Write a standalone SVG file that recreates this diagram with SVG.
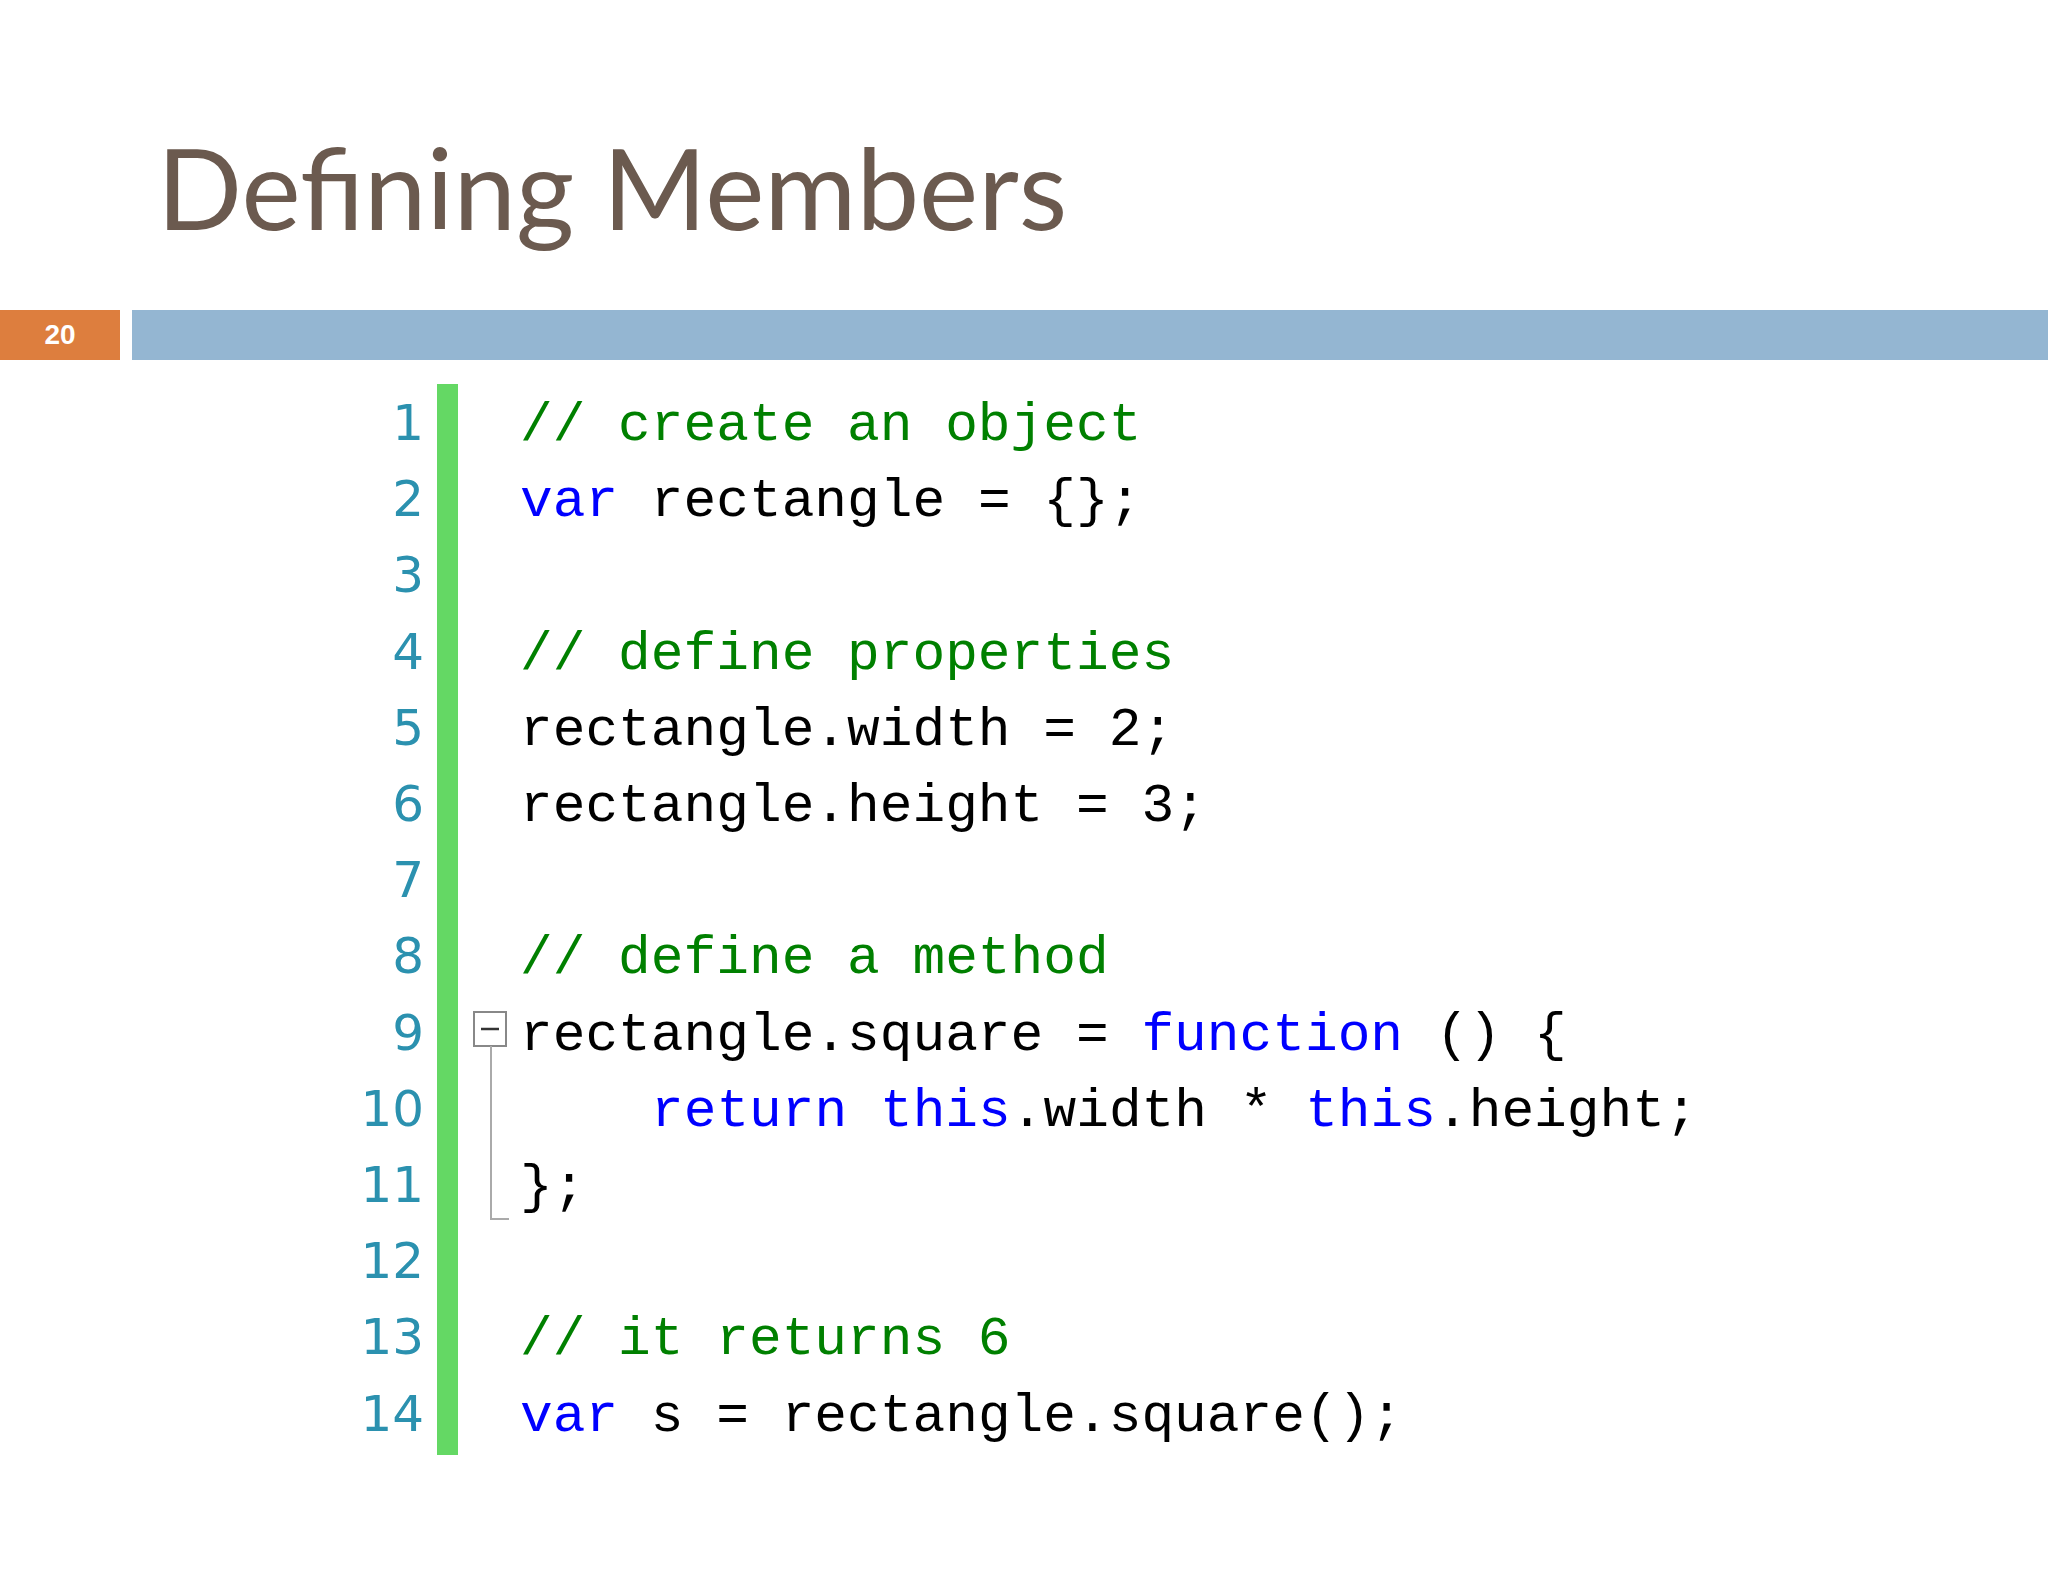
<svg xmlns="http://www.w3.org/2000/svg" width="2048" height="1582" viewBox="0 0 2048 1582">
<style>
.ln{font-family:"DejaVu Sans","Liberation Sans",sans-serif;font-size:50px;fill:#2b91af;text-anchor:end}
.c{font-family:"Liberation Mono","DejaVu Sans Mono",monospace;font-size:54.5px;fill:#000}
.g{fill:#008000}.k{fill:#0000ff}
</style>
<rect width="2048" height="1582" fill="#fff"/>
<g id="title"><text x="157" y="230" font-family="Lato,'Open Sans',sans-serif" font-size="112" fill="#6b5a4f">Defining Members</text></g>
<g id="header">
<rect x="0" y="310" width="120" height="50" fill="#dd7e3e"/>
<text x="60" y="344" font-family="'Liberation Sans',sans-serif" font-size="28" font-weight="bold" fill="#fff" text-anchor="middle">20</text>
<rect x="132" y="310" width="1916" height="50" fill="#94b6d2"/>
</g>
<g id="code">
<rect x="437" y="384" width="21" height="1071" fill="#64d864"/>
<g>
<text class="ln" x="424" y="440">1</text>
<text class="ln" x="424" y="516">2</text>
<text class="ln" x="424" y="592">3</text>
<text class="ln" x="424" y="669">4</text>
<text class="ln" x="424" y="745">5</text>
<text class="ln" x="424" y="821">6</text>
<text class="ln" x="424" y="897">7</text>
<text class="ln" x="424" y="973">8</text>
<text class="ln" x="424" y="1050">9</text>
<text class="ln" x="424" y="1126">10</text>
<text class="ln" x="424" y="1202">11</text>
<text class="ln" x="424" y="1278">12</text>
<text class="ln" x="424" y="1354">13</text>
<text class="ln" x="424" y="1431">14</text>
</g>
<rect x="474" y="1012" width="32" height="34" fill="#fff" stroke="#888" stroke-width="2"/>
<line x1="481" y1="1029" x2="499" y2="1029" stroke="#333" stroke-width="2.5"/>
<polyline points="491,1046 491,1219 509,1219" fill="none" stroke="#aaa" stroke-width="2"/>
<g xml:space="preserve">
<text class="c" x="520" y="440"><tspan class="g">// create an object</tspan></text>
<text class="c" x="520" y="516"><tspan class="k">var</tspan> rectangle = {};</text>
<text class="c" x="520" y="669"><tspan class="g">// define properties</tspan></text>
<text class="c" x="520" y="745">rectangle.width = 2;</text>
<text class="c" x="520" y="821">rectangle.height = 3;</text>
<text class="c" x="520" y="973"><tspan class="g">// define a method</tspan></text>
<text class="c" x="520" y="1050">rectangle.square = <tspan class="k">function</tspan> () {</text>
<text class="c" x="651" y="1126"><tspan class="k">return</tspan> <tspan class="k">this</tspan>.width * <tspan class="k">this</tspan>.height;</text>
<text class="c" x="520" y="1202">};</text>
<text class="c" x="520" y="1354"><tspan class="g">// it returns 6</tspan></text>
<text class="c" x="520" y="1431"><tspan class="k">var</tspan> s = rectangle.square();</text>
</g>
</g>
</svg>
